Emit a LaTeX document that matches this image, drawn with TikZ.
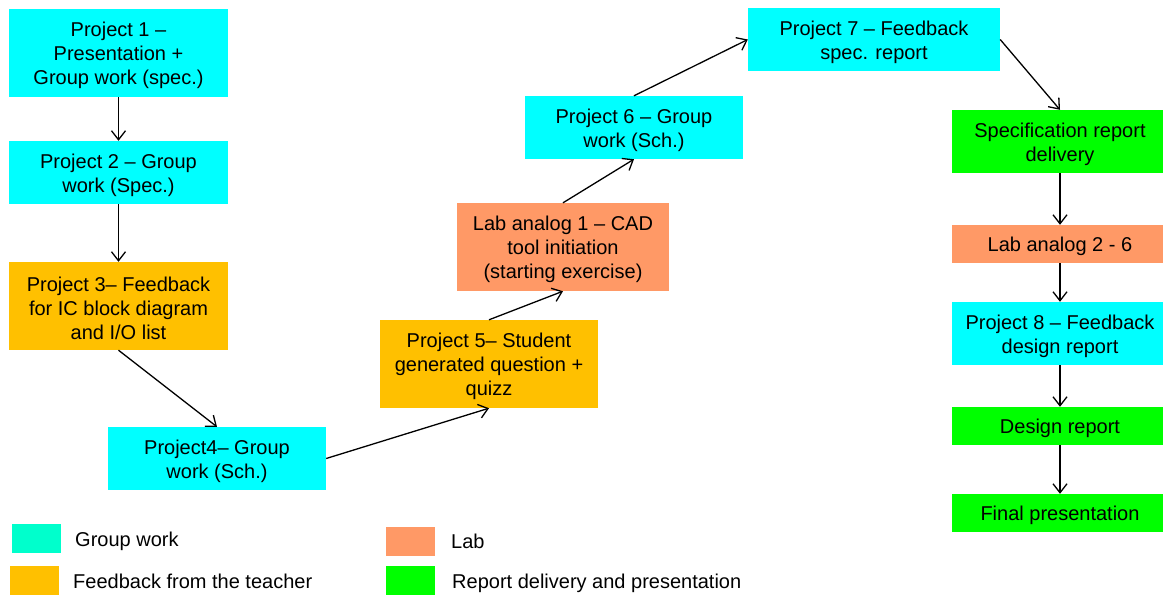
\documentclass[tikz,border=0pt]{standalone}
\usepackage{fontspec}
\setmainfont{Liberation Sans}
\usetikzlibrary{arrows.meta}
\definecolor{cy}{HTML}{00FFFF}
\definecolor{gc}{HTML}{00FFCC}
\definecolor{orc}{HTML}{FFC000}
\definecolor{labc}{HTML}{FF9966}
\definecolor{grn}{HTML}{00FF00}
\begin{document}
\begin{tikzpicture}[x=1pt,y=-1pt,
  txt/.style={inner sep=0pt, align=center, font=\fontsize{20}{24}\selectfont, yshift=-2.5pt},
  box/.style={inner sep=0pt, label={[txt]center:{#1}}},
  conn/.style={-{Straight Barb[length=9pt,width=14pt,line width=1.3pt]}, line width=1.3pt},
  key/.style={inner sep=0pt, minimum width=49pt, minimum height=29pt},
  keytext/.style={inner sep=0pt, anchor=west, font=\fontsize{20}{24}\selectfont}]
\useasboundingbox (0,0) rectangle (1163,595);
\clip (0,0) rectangle (1163,595);
\node[box={Project 1 --\\Presentation +\\Group work (spec.)}, fill=cy, minimum width=219pt, minimum height=88pt] (p1) at (118.5,53) {};
\node[box={Project 2 -- Group\\work (Spec.)}, fill=cy, minimum width=219pt, minimum height=63pt] (p2) at (118.5,172.5) {};
\node[box={Project 3-- Feedback\\for IC block diagram\\and I/O list}, fill=orc, minimum width=219pt, minimum height=88pt] (p3) at (118.5,306) {};
\node[box={Project4-- Group\\work (Sch.)}, fill=cy, minimum width=218pt, minimum height=63pt] (p4) at (217,458.5) {};
\node[box={Project 5-- Student\\generated question +\\quizz}, fill=orc, minimum width=218pt, minimum height=88pt] (p5) at (489,364) {};
\node[box={Lab analog 1 -- CAD\\tool initiation\\(starting exercise)}, fill=labc, minimum width=212pt, minimum height=88pt] (lab1) at (563,247) {};
\node[box={Project 6 -- Group\\work (Sch.)}, fill=cy, minimum width=218pt, minimum height=63pt] (p6) at (634,127.5) {};
\node[box={Project 7 -- Feedback\\spec. report}, fill=cy, minimum width=252pt, minimum height=63pt] (p7) at (874,39.5) {};
\node[box={Specification report\\delivery}, fill=grn, minimum width=216pt, minimum height=63pt] (spec) at (1060,141.5) {};
\node[box={Lab analog 2 - 6}, fill=labc, minimum width=216pt, minimum height=38pt] (lab2) at (1060,244) {};
\node[box={Project 8 -- Feedback\\design report}, fill=cy, minimum width=216pt, minimum height=63pt] (p8) at (1060,333.5) {};
\node[box={Design report}, fill=grn, minimum width=216pt, minimum height=38pt] (des) at (1060,426) {};
\node[box={Final presentation}, fill=grn, minimum width=216pt, minimum height=38pt] (fin) at (1060,513) {};

\draw[conn] (p1) -- (p2);
\draw[conn] (p2) -- (p3);
\draw[conn] (p3.south) -- (p4.north);
\draw[conn] (p4.east) -- (p5.south);
\draw[conn] (p5.north) -- (lab1.south);
\draw[conn] (lab1.north) -- (p6.south);
\draw[conn] (p6.north) -- (p7.west);
\draw[conn] (p7.east) -- (spec.north);
\draw[conn] (spec) -- (lab2);
\draw[conn] (lab2) -- (p8);
\draw[conn] (p8) -- (des);
\draw[conn] (des) -- (fin);

\node[key, fill=gc] (k1) at (36,538.5) {};
\node[keytext] (t1) at (75,541) {Group work};
\node[key, fill=orc] (k2) at (34.5,580) {};
\node[keytext] (t2) at (73,581.5) {Feedback from the teacher};
\node[key, fill=labc] (k3) at (410.5,541.5) {};
\node[keytext] (t3) at (451,541.5) {Lab};
\node[key, fill=grn] (k4) at (410.5,580) {};
\node[keytext] (t4) at (452,583) {Report delivery and presentation};
\end{tikzpicture}
\end{document}
